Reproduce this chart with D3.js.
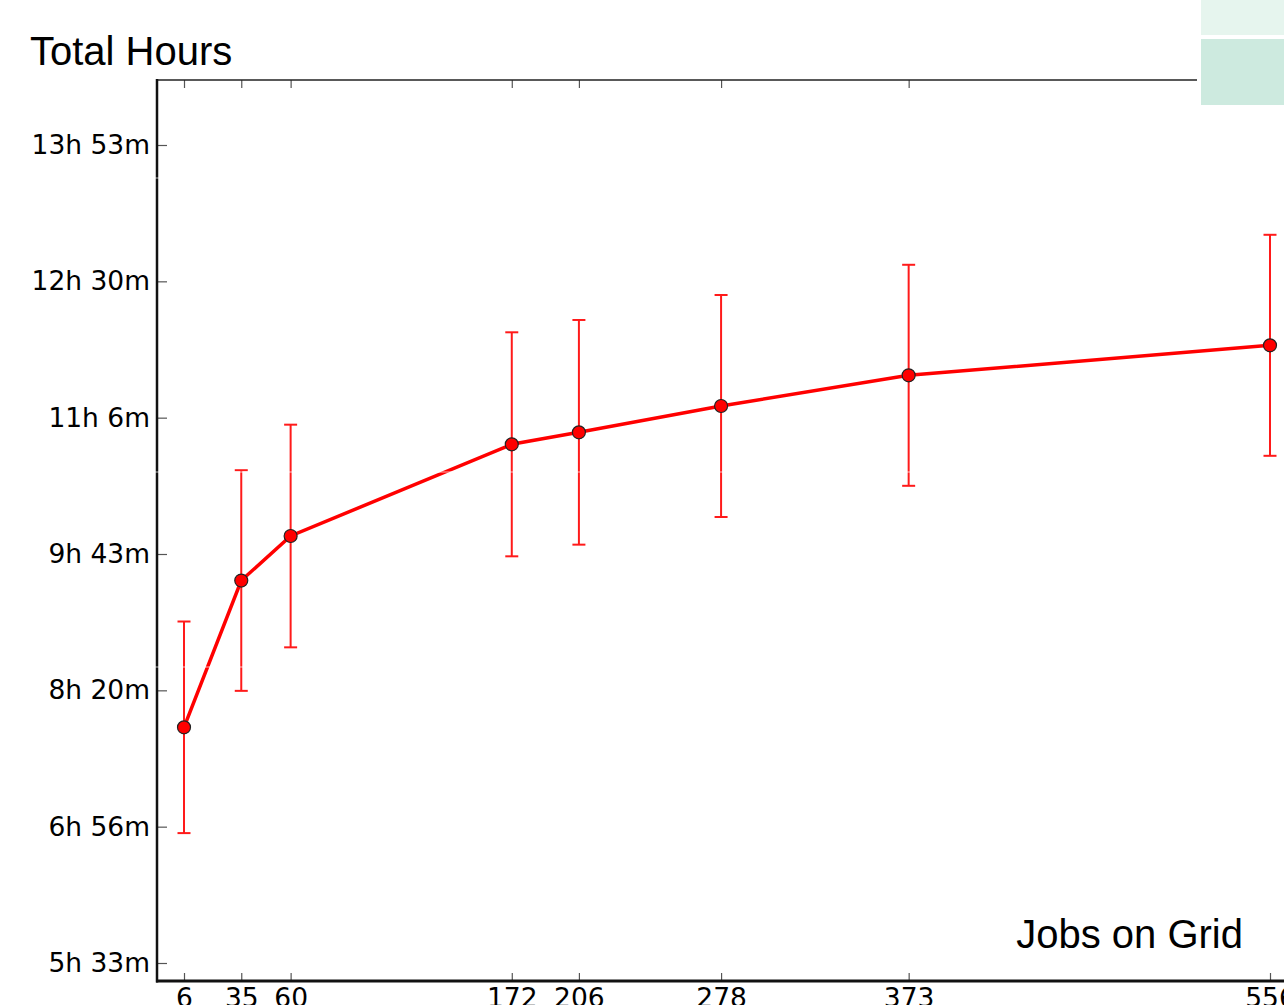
<!DOCTYPE html>
<html>
<head>
<meta charset="utf-8">
<script src="https://cdn.jsdelivr.net/npm/d3@7"></script>
<style>
  body { margin: 0; background: #fff; }
  svg { display: block; }
</style>
</head>
<body>
<div id="chart"></div>
<script>
// Data: jobs on grid vs total time (seconds), symmetric error
const jobs = [6, 35, 60, 172, 206, 278, 373, 556];
const meanSeconds = [28644, 34027, 35660, 39023, 39463, 40428, 41554, 42654];
const errSeconds = [3880, 4046, 4083, 4108, 4120, 4071, 4053, 4053];

const yTickSeconds = [20000, 25000, 30000, 35000, 40000, 45000, 50000];
const yTickLabels = ["5h 33m", "6h 56m", "8h 20m", "9h 43m", "11h 6m", "12h 30m", "13h 53m"];

const svgWidth = 1284;
const svgHeight = 1005;

// plot frame
const frame = { left: 157, top: 80, bottom: 981, topEnd: 1197 };

const svg = d3.select("#chart")
  .append("svg")
  .attr("width", svgWidth)
  .attr("height", svgHeight);

const x = d3.scaleLinear()
  .domain([6, 556])
  .range([184, 1270]);

const y = d3.scaleLinear()
  .domain([20000, 50000])
  .range([963, 145]);

// Y axis (inward ticks)
const yAxis = d3.axisLeft(y)
  .tickValues(yTickSeconds)
  .tickFormat((d, i) => yTickLabels[i])
  .tickSizeInner(-10)
  .tickSizeOuter(0)
  .tickPadding(7);

const yAxisG = svg.append("g")
  .attr("transform", `translate(${frame.left}, 0)`)
  .call(yAxis);
yAxisG.select(".domain").remove();
yAxisG.selectAll(".tick line").attr("stroke", "#555").attr("stroke-width", 1.2);
yAxisG.selectAll(".tick text")
  .attr("fill", "#000")
  .style("font-family", "DejaVu Sans")
  .style("font-size", "26.5px");

// X axis bottom
const xAxis = d3.axisBottom(x)
  .tickValues(jobs)
  .tickFormat(d3.format("d"))
  .tickSizeInner(-8)
  .tickSizeOuter(0)
  .tickPadding(7);

const xAxisG = svg.append("g")
  .attr("transform", `translate(0, ${frame.bottom})`)
  .call(xAxis);
xAxisG.select(".domain").remove();
xAxisG.selectAll(".tick line").attr("stroke", "#555").attr("stroke-width", 1.2);
xAxisG.selectAll(".tick text")
  .attr("fill", "#000")
  .style("font-family", "DejaVu Sans")
  .style("font-size", "26.5px");

// X axis top (ticks only)
const xTopG = svg.append("g")
  .attr("transform", `translate(0, ${frame.top})`)
  .call(d3.axisTop(x).tickValues(jobs).tickSizeInner(-8).tickSizeOuter(0).tickFormat(""));
xTopG.select(".domain").remove();
xTopG.selectAll(".tick line").attr("stroke", "#555").attr("stroke-width", 1.2);

// spines
svg.append("line")
  .attr("x1", frame.left).attr("x2", frame.topEnd)
  .attr("y1", frame.top).attr("y2", frame.top)
  .attr("stroke", "#222").attr("stroke-width", 1.5);
svg.append("line")
  .attr("x1", frame.left).attr("x2", frame.left)
  .attr("y1", frame.top - 1).attr("y2", frame.bottom + 1.5)
  .attr("stroke", "#111").attr("stroke-width", 2.5);
svg.append("line")
  .attr("x1", frame.left - 1).attr("x2", svgWidth)
  .attr("y1", frame.bottom).attr("y2", frame.bottom)
  .attr("stroke", "#111").attr("stroke-width", 3);

const data = jobs.map((j, i) => ({ j: j, m: meanSeconds[i], e: errSeconds[i] }));

// error bars
const errG = svg.append("g")
  .attr("stroke", "#ff1a1a")
  .attr("stroke-width", 2);

errG.selectAll(".err")
  .data(data)
  .enter()
  .append("line")
  .attr("x1", d => x(d.j)).attr("x2", d => x(d.j))
  .attr("y1", d => y(d.m - d.e)).attr("y2", d => y(d.m + d.e));

errG.selectAll(".capTop")
  .data(data)
  .enter()
  .append("line")
  .attr("x1", d => x(d.j) - 6.5).attr("x2", d => x(d.j) + 6.5)
  .attr("y1", d => y(d.m + d.e)).attr("y2", d => y(d.m + d.e));

errG.selectAll(".capBot")
  .data(data)
  .enter()
  .append("line")
  .attr("x1", d => x(d.j) - 6.5).attr("x2", d => x(d.j) + 6.5)
  .attr("y1", d => y(d.m - d.e)).attr("y2", d => y(d.m - d.e));

// main line
const line = d3.line()
  .x(d => x(d.j))
  .y(d => y(d.m));

svg.append("path")
  .datum(data)
  .attr("fill", "none")
  .attr("stroke", "#ff0000")
  .attr("stroke-width", 3.5)
  .attr("d", line);

svg.append("g")
  .selectAll("circle")
  .data(data)
  .enter()
  .append("circle")
  .attr("cx", d => x(d.j))
  .attr("cy", d => y(d.m))
  .attr("r", 6.5)
  .attr("fill", "#ff0000")
  .attr("stroke", "#222")
  .attr("stroke-width", 1.2);

// faint white scan lines seen in the picture
[178, 472, 667].forEach(yy => {
  svg.append("line")
    .attr("x1", 0).attr("x2", svgWidth)
    .attr("y1", yy).attr("y2", yy)
    .attr("stroke", "#fff").attr("stroke-width", 1)
    .attr("opacity", 0.7);
});

// titles
svg.append("text")
  .attr("x", 30)
  .attr("y", 65)
  .style("font-family", "Liberation Sans, Arial, sans-serif")
  .style("font-size", "40px")
  .attr("fill", "#000")
  .text("Total Hours");

svg.append("text")
  .attr("x", 1243)
  .attr("y", 948)
  .attr("text-anchor", "end")
  .style("font-family", "Liberation Sans, Arial, sans-serif")
  .style("font-size", "40px")
  .attr("fill", "#000")
  .text("Jobs on Grid");

// green boxes at top right
svg.append("rect")
  .attr("x", 1201).attr("y", 0)
  .attr("width", 83).attr("height", 35)
  .attr("fill", "#e6f5ee");
svg.append("rect")
  .attr("x", 1201).attr("y", 39)
  .attr("width", 83).attr("height", 66)
  .attr("fill", "#cdeadf");
</script>
</body>
</html>
